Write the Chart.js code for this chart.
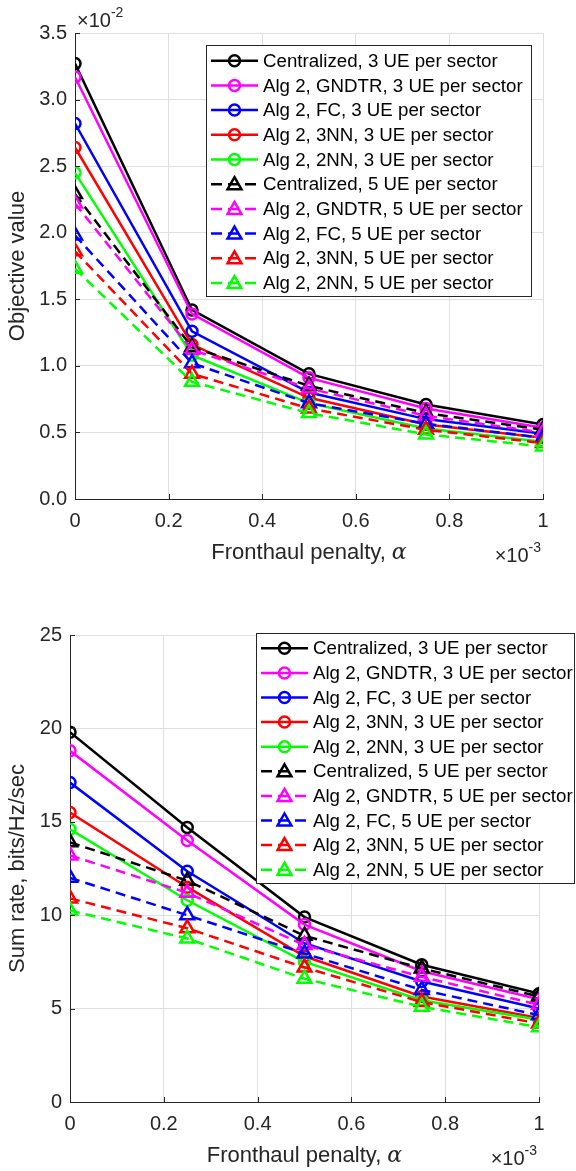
<!DOCTYPE html>
<html>
<head>
<meta charset="utf-8">
<script src="https://cdn.jsdelivr.net/npm/chart.js@4"></script>
<style>
  html, body { margin: 0; padding: 0; background: #fff; }
  .box { position: absolute; left: 0; width: 576px; height: 585px; }
  #topBox { top: 0; }
  #bottomBox { top: 585px; }
</style>
</head>
<body>
<div class="box" id="topBox"><canvas id="objChart"></canvas></div>
<div class="box" id="bottomBox"><canvas id="rateChart"></canvas></div>
<script>
// fronthaul penalty alpha (x 1e-3)
const alpha = [0, 0.25, 0.5, 0.75, 1];

const seriesNames = [
  "Centralized, 3 UE per sector",
  "Alg 2, GNDTR, 3 UE per sector",
  "Alg 2, FC, 3 UE per sector",
  "Alg 2, 3NN, 3 UE per sector",
  "Alg 2, 2NN, 3 UE per sector",
  "Centralized, 5 UE per sector",
  "Alg 2, GNDTR, 5 UE per sector",
  "Alg 2, FC, 5 UE per sector",
  "Alg 2, 3NN, 5 UE per sector",
  "Alg 2, 2NN, 5 UE per sector"
];
const colors = ["#000000", "#ff00ff", "#0000ff", "#ff0000", "#00ff00"];

// OBJECTIVE VALUE (x 1e-2)
const objCentral3 = [3.27, 1.42, 0.94, 0.71, 0.56];
const objGndtr3   = [3.17, 1.39, 0.91, 0.68, 0.535];
const objFc3      = [2.82, 1.26, 0.80, 0.60, 0.49];
const obj3nn3     = [2.64, 1.16, 0.76, 0.56, 0.46];
const obj2nn3     = [2.45, 1.08, 0.72, 0.53, 0.43];
const objCentral5 = [2.29, 1.14, 0.85, 0.645, 0.52];
const objGndtr5   = [2.22, 1.12, 0.83, 0.625, 0.50];
const objFc5      = [1.98, 1.02, 0.72, 0.565, 0.46];
const obj3nn5     = [1.86, 0.94, 0.68, 0.52, 0.42];
const obj2nn5     = [1.73, 0.88, 0.645, 0.485, 0.395];

// SUM RATE, bits/Hz/sec
const rateCentral3 = [19.8, 14.7, 9.9, 7.35, 5.8];
const rateGndtr3   = [18.8, 14.0, 9.5, 7.0, 5.5];
const rateFc3      = [17.1, 12.35, 8.5, 6.45, 5.0];
const rate3nn3     = [15.5, 11.5, 7.8, 5.65, 4.5];
const rate2nn3     = [14.6, 10.8, 7.5, 5.45, 4.4];
const rateCentral5 = [13.9, 11.85, 8.9, 7.15, 5.65];
const rateGndtr5   = [13.2, 11.2, 8.4, 6.7, 5.2];
const rateFc5      = [12.0, 10.0, 7.95, 6.0, 4.65];
const rate3nn5     = [10.9, 9.3, 7.2, 5.35, 4.2];
const rate2nn5     = [10.25, 8.75, 6.6, 5.1, 4.0];

const objSeries = [objCentral3, objGndtr3, objFc3, obj3nn3, obj2nn3,
                   objCentral5, objGndtr5, objFc5, obj3nn5, obj2nn5];
const rateSeries = [rateCentral3, rateGndtr3, rateFc3, rate3nn3, rate2nn3,
                    rateCentral5, rateGndtr5, rateFc5, rate3nn5, rate2nn5];

const FONT = "'Liberation Sans', Arial, Helvetica, sans-serif";
const AXIS = "#262626";
const GRID = "#dfdfdf";

function makeDatasets(series) {
  return series.map((vals, i) => {
    const five = i >= 5;
    return {
      label: seriesNames[i],
      data: alpha.map((a, k) => ({ x: a, y: vals[k] })),
      borderColor: colors[i % 5],
      borderWidth: 2.5,
      borderDash: five ? [10, 6] : [],
      pointStyle: five ? "triangle" : "circle",
      pointRadius: five ? 8 : 5.5,
      pointBorderWidth: 2.5,
      pointBorderColor: colors[i % 5],
      pointBackgroundColor: "rgba(0,0,0,0)",
      tension: 0,
      order: series.length - 1 - i
    };
  });
}

function marker(ctx, style, x, y, r) {
  ctx.beginPath();
  if (style === "circle") {
    ctx.arc(x, y, r, 0, Math.PI * 2);
  } else {
    ctx.moveTo(x, y - r);
    ctx.lineTo(x + 0.866 * r, y + 0.5 * r);
    ctx.lineTo(x - 0.866 * r, y + 0.5 * r);
    ctx.closePath();
  }
  ctx.stroke();
}

// "x10^n" label; anchor is left edge, or right edge when alignRight
function drawExp(ctx, x, base, exp, alignRight) {
  ctx.font = "20px " + FONT;
  const w1 = ctx.measureText("\u00d710").width;
  ctx.font = "14px " + FONT;
  const w2 = ctx.measureText(exp).width;
  const left = alignRight ? x - w1 - w2 : x;
  ctx.fillStyle = AXIS;
  ctx.textAlign = "left";
  ctx.textBaseline = "alphabetic";
  ctx.font = "20px " + FONT;
  ctx.fillText("\u00d710", left, base);
  ctx.font = "14px " + FONT;
  ctx.fillText(exp, left + w1, base - 10);
}

const extras = {
  id: "extras",
  afterDraw(chart, args, o) {
    const { ctx, chartArea: ca, scales } = chart;
    ctx.save();

    // inward tick marks
    ctx.strokeStyle = AXIS;
    ctx.lineWidth = 1;
    ctx.beginPath();
    scales.x.ticks.forEach(t => {
      const px = Math.round(scales.x.getPixelForValue(t.value)) + 0.5;
      ctx.moveTo(px, ca.bottom); ctx.lineTo(px, ca.bottom - 5);
    });
    scales.y.ticks.forEach(t => {
      const py = Math.round(scales.y.getPixelForValue(t.value)) + 0.5;
      ctx.moveTo(ca.left, py); ctx.lineTo(ca.left + 5, py);
    });
    ctx.stroke();

    // x axis title with italic alpha
    const t1 = "Fronthaul penalty, ";
    ctx.font = "22px " + FONT;
    const w1 = ctx.measureText(t1).width;
    ctx.font = "italic 22px 'DejaVu Serif', 'Liberation Serif', serif";
    const w2 = ctx.measureText("\u03b1").width;
    const cx = (ca.left + ca.right) / 2 - (w1 + w2) / 2;
    ctx.fillStyle = AXIS;
    ctx.textAlign = "left";
    ctx.textBaseline = "alphabetic";
    ctx.font = "22px " + FONT;
    ctx.fillText(t1, cx, ca.bottom + 60);
    ctx.font = "italic 22px 'DejaVu Serif', 'Liberation Serif', serif";
    ctx.fillText("\u03b1", cx + w1, ca.bottom + 60);

    // exponents
    drawExp(ctx, ca.right - 2, ca.bottom + 62.5, "-3", true);
    if (o.yExp) drawExp(ctx, ca.left + 2, ca.top - 6, o.yExp, false);

    // legend
    const L = o.legend;
    ctx.fillStyle = "#fff";
    ctx.fillRect(L.x0, L.y0, L.x1 - L.x0, L.y1 - L.y0);
    ctx.strokeStyle = AXIS;
    ctx.lineWidth = 1;
    ctx.strokeRect(L.x0 + 0.5, L.y0 + 0.5, L.x1 - L.x0, L.y1 - L.y0);
    ctx.font = "18.7px " + FONT;
    ctx.textBaseline = "middle";
    chart.data.datasets.forEach((ds, i) => {
      const y = L.row0 + i * L.dy;
      const mid = (L.lx0 + L.lx1) / 2;
      ctx.strokeStyle = ds.borderColor;
      ctx.lineWidth = 2.5;
      ctx.setLineDash(ds.borderDash.length ? [11, 6] : []);
      ctx.beginPath();
      ctx.moveTo(L.lx0, y); ctx.lineTo(L.lx1, y);
      ctx.stroke();
      ctx.setLineDash([]);
      marker(ctx, ds.pointStyle, mid, y + (ds.pointStyle === "triangle" ? 1 : 0), ds.pointRadius);
      ctx.fillStyle = "#000";
      ctx.fillText(ds.label, L.tx, y + 1);
    });
    ctx.restore();
  }
};

function makeChart(canvas, series, cfg) {
  return new Chart(canvas, {
    type: "line",
    data: { datasets: makeDatasets(series) },
    options: {
      responsive: true,
      maintainAspectRatio: false,
      devicePixelRatio: 1,
      animation: false,
      layout: { padding: { top: cfg.padTop, right: cfg.padRight, left: 0, bottom: 0 } },
      plugins: {
        legend: { display: false },
        tooltip: { enabled: false },
        extras: { legend: cfg.legend, yExp: cfg.yExp }
      },
      scales: {
        x: {
          type: "linear",
          min: 0, max: 1,
          afterFit: s => { s.height = cfg.xHeight; },
          grid: { color: GRID, lineWidth: 1, drawTicks: false },
          border: { display: true, color: AXIS, width: 1 },
          ticks: {
            stepSize: 0.2,
            padding: 10,
            color: AXIS,
            font: { family: FONT, size: 20 },
            maxRotation: 0,
            callback: v => (v === 0 || v === 1) ? String(v) : v.toFixed(1)
          }
        },
        y: {
          min: 0, max: cfg.yMax,
          afterFit: s => { s.width = cfg.yWidth; },
          grid: { color: GRID, lineWidth: 1, drawTicks: false },
          border: { display: true, color: AXIS, width: 1 },
          title: {
            display: true,
            text: cfg.yTitle,
            color: AXIS,
            font: { family: FONT, size: 22 },
            padding: { top: 5, bottom: 0 }
          },
          ticks: {
            stepSize: cfg.yStep,
            padding: 8,
            color: AXIS,
            font: { family: FONT, size: 20 },
            callback: cfg.yFmt
          }
        }
      }
    },
    plugins: [extras]
  });
}

// OBJECTIVE VALUE CHART
makeChart(document.getElementById("objChart"), objSeries, {
  padTop: 33, padRight: 33, yWidth: 75, xHeight: 86,
  yMax: 3.5, yStep: 0.5, yFmt: v => v.toFixed(1),
  yTitle: "Objective value", yExp: "-2",
  legend: { x0: 206, y0: 45, x1: 531, y1: 296, row0: 60.7, dy: 24.7, lx0: 211, lx1: 258, tx: 263 }
});

// SUM RATE CHART
makeChart(document.getElementById("rateChart"), rateSeries, {
  padTop: 50, padRight: 37, yWidth: 70, xHeight: 68,
  yMax: 25, yStep: 5, yFmt: v => String(v),
  yTitle: "Sum rate, bits/Hz/sec", yExp: null,
  legend: { x0: 256, y0: 48, x1: 574, y1: 298, row0: 63.3, dy: 24.6, lx0: 261, lx1: 308, tx: 313 }
});
</script>
</body>
</html>
